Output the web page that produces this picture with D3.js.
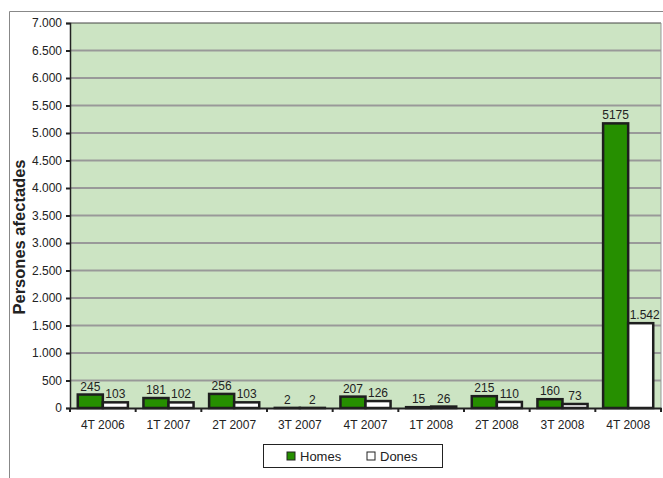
<!DOCTYPE html>
<html>
<head>
    <meta charset="utf-8">
    <title>Persones afectades</title>
    <script src="https://d3js.org/d3.v7.min.js"></script>
    <style>
        body { margin: 0; padding: 0; background: #fff; }
        text { font-family: "Liberation Sans", Arial, sans-serif; fill: #222; }
    </style>
</head>
<body>
    <svg id="svg" width="663" height="478"></svg>
    <script>
        const categories = ["4T 2006", "1T 2007", "2T 2007", "3T 2007", "4T 2007", "1T 2008", "2T 2008", "3T 2008", "4T 2008"];
        const seriesNames = ["Homes", "Dones"];
        const homes = [245, 181, 256, 2, 207, 15, 215, 160, 5175];
        const dones = [103, 102, 103, 2, 126, 26, 110, 73, 1542];
        const homesLabels = ["245", "181", "256", "2", "207", "15", "215", "160", "5175"];
        const donesLabels = ["103", "102", "103", "2", "126", "26", "110", "73", "1.542"];
        const yTicks = [0, 500, 1000, 1500, 2000, 2500, 3000, 3500, 4000, 4500, 5000, 5500, 6000, 6500, 7000];
        const colors = { Homes: "#268f00", Dones: "#ffffff" };

        const svg = d3.select("svg");
        const plot = { left: 70, right: 661, top: 23, bottom: 408 };

        // Outer chart frame (only top and left edges visible)
        svg.append("path")
            .attr("d", "M9.5,478 V11.5 H663")
            .attr("fill", "none")
            .attr("stroke", "#888")
            .attr("stroke-width", 1);

        const x0 = d3.scaleBand().domain(categories).range([plot.left, plot.right]).padding(0);
        const x1 = d3.scaleBand().domain(seriesNames).range([0, x0.bandwidth()]).paddingInner(0).paddingOuter(0.31);
        const y = d3.scaleLinear().domain([0, 7000]).range([plot.bottom, plot.top]);

        // Plot background
        svg.append("rect")
            .attr("x", plot.left).attr("y", plot.top)
            .attr("width", plot.right - plot.left).attr("height", plot.bottom - plot.top)
            .attr("fill", "#cce4c3");

        // Gridlines
        svg.append("g")
            .selectAll("line")
            .data(yTicks.filter(d => d > 0))
            .join("line")
            .attr("x1", plot.left).attr("x2", plot.right)
            .attr("y1", d => y(d)).attr("y2", d => y(d))
            .attr("stroke", d => d === 7000 ? "#444" : "#999")
            .attr("stroke-width", d => d === 7000 ? 1 : 2);

        // right border of plot
        svg.append("line")
            .attr("x1", plot.right).attr("x2", plot.right)
            .attr("y1", plot.top).attr("y2", plot.bottom)
            .attr("stroke", "#999").attr("stroke-width", 1);

        const data = categories.map((c, i) => ({
            cat: c,
            vals: [
                { key: "Homes", value: homes[i], label: homesLabels[i] },
                { key: "Dones", value: dones[i], label: donesLabels[i] }
            ]
        }));

        // Bars
        const groups = svg.append("g")
            .selectAll("g")
            .data(data)
            .join("g")
            .attr("transform", d => `translate(${x0(d.cat)},0)`);

        groups.selectAll("rect")
            .data(d => d.vals)
            .join("rect")
            .attr("x", d => x1(d.key))
            .attr("y", d => y(d.value))
            .attr("width", x1.bandwidth())
            .attr("height", d => y(0) - y(d.value))
            .attr("fill", d => colors[d.key])
            .attr("stroke", "#1e1e1e")
            .attr("stroke-width", 2.5);

        groups.selectAll("text")
            .data(d => d.vals)
            .join("text")
            .attr("x", d => x1(d.key) + x1.bandwidth() / 2 + (d.key === "Dones" && d.value > 1000 ? 4 : 0))
            .attr("y", d => y(d.value) - 4)
            .attr("text-anchor", "middle")
            .style("font-size", "12px")
            .text(d => d.label);

        // Y axis
        const yAxis = svg.append("g")
            .attr("transform", `translate(${plot.left},0)`)
            .call(d3.axisLeft(y).tickValues(yTicks).tickSize(4).tickPadding(4)
                .tickFormat(d => d3.format(",")(d).replace(/,/g, ".")));
        yAxis.select(".domain").attr("stroke", "#222").attr("stroke-width", 1.5);
        yAxis.selectAll(".tick line").attr("stroke", "#222").attr("stroke-width", 2);
        yAxis.selectAll("text").style("font-size", "12px").attr("fill", "#222");

        // X axis
        const xAxis = svg.append("g")
            .attr("transform", `translate(0,${plot.bottom})`)
            .call(d3.axisBottom(x0).tickSize(0).tickPadding(12));
        xAxis.select(".domain").attr("stroke", "#222").attr("stroke-width", 2);
        xAxis.selectAll("text").style("font-size", "12px").attr("fill", "#222");

        // category separator ticks
        svg.append("g")
            .selectAll("line")
            .data(categories.concat(["end"]))
            .join("line")
            .attr("x1", (d, i) => plot.left + i * x0.step())
            .attr("x2", (d, i) => plot.left + i * x0.step())
            .attr("y1", plot.bottom).attr("y2", plot.bottom + 4)
            .attr("stroke", "#222").attr("stroke-width", 2);

        // Y title
        svg.append("text")
            .attr("transform", "translate(25,237) rotate(-90)")
            .attr("text-anchor", "middle")
            .style("font-size", "16.5px")
            .style("font-weight", "bold")
            .text("Persones afectades");

        // Legend
        const legend = svg.append("g").attr("transform", "translate(263,444)");
        legend.append("rect")
            .attr("x", 0.5).attr("y", 0.5).attr("width", 179).attr("height", 23)
            .attr("fill", "#fff").attr("stroke", "#222").attr("stroke-width", 1);
        const items = legend.selectAll("g")
            .data(seriesNames)
            .join("g")
            .attr("transform", (d, i) => `translate(${24 + i * 80},7)`);
        items.append("rect")
            .attr("width", 8).attr("height", 8).attr("y", 1)
            .attr("fill", d => colors[d])
            .attr("stroke", "#222").attr("stroke-width", 1);
        items.append("text")
            .attr("x", 13).attr("y", 10)
            .style("font-size", "13px")
            .text(d => d);
    </script>
</body>
</html>
